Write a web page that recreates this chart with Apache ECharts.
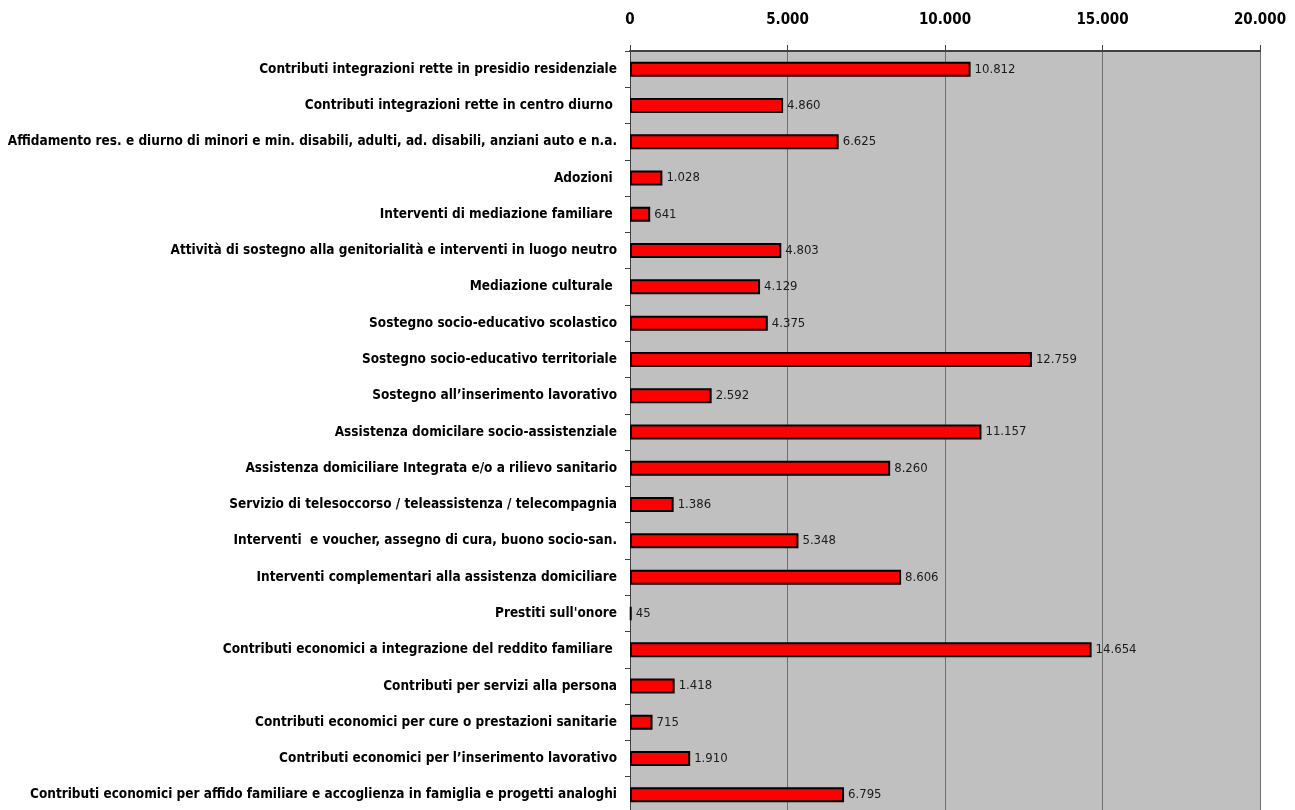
<!DOCTYPE html>
<html lang="it">
<head>
    <meta charset="UTF-8">
    <title>Interventi e servizi</title>
    <script src="https://cdn.jsdelivr.net/npm/echarts@6/dist/echarts.min.js"></script>
    <style>
        html, body { margin: 0; padding: 0; background: #fff; }
        #main { width: 1295px; height: 810px; }
    </style>
</head>
<body>
<div id="main"></div>
<script type="text/javascript">
    // categorie, dall'alto verso il basso
    var categories = [
        'Contributi integrazioni rette in presidio residenziale',
        'Contributi integrazioni rette in centro diurno ',
        'Affidamento res. e diurno di minori e min. disabili, adulti, ad. disabili, anziani auto e n.a.',
        'Adozioni ',
        'Interventi di mediazione familiare ',
        'Attività di sostegno alla genitorialità e interventi in luogo neutro',
        'Mediazione culturale ',
        'Sostegno socio-educativo scolastico',
        'Sostegno socio-educativo territoriale',
        'Sostegno all\u2019inserimento lavorativo',
        'Assistenza domicilare socio-assistenziale',
        'Assistenza domiciliare Integrata e/o a rilievo sanitario',
        'Servizio di telesoccorso / teleassistenza / telecompagnia',
        'Interventi  e voucher, assegno di cura, buono socio-san.',
        'Interventi complementari alla assistenza domiciliare',
        'Prestiti sull\'onore',
        'Contributi economici a integrazione del reddito familiare ',
        'Contributi per servizi alla persona',
        'Contributi economici per cure o prestazioni sanitarie',
        'Contributi economici per l\u2019inserimento lavorativo',
        'Contributi economici per affido familiare e accoglienza in famiglia e progetti analoghi'
    ];
    var values = [10812, 4860, 6625, 1028, 641, 4803, 4129, 4375, 12759, 2592,
        11157, 8260, 1386, 5348, 8606, 45, 14654, 1418, 715, 1910, 6795];
    var xTicks = [0, 5000, 10000, 15000, 20000];

    var fontFam = '"DejaVu Sans Condensed", "Liberation Sans Narrow", "Arial Narrow", sans-serif';

    function fmt(v) {
        return String(v).replace(/\B(?=(\d{3})+(?!\d))/g, '.');
    }

    var myChart = echarts.init(document.getElementById('main'));
    var option = {
        animation: false,
        grid: {
            left: 630,
            right: 35,
            top: 51,
            bottom: -3,
            outerBoundsMode: 'none',
            containLabel: false,
            show: true,
            backgroundColor: '#c0c0c0',
            borderWidth: 0
        },
        xAxis: {
            type: 'value',
            position: 'top',
            min: xTicks[0],
            max: xTicks[xTicks.length - 1],
            interval: 5000,
            axisLine: {show: true, lineStyle: {color: '#404040', width: 2}},
            axisTick: {show: true, inside: false, length: 6, lineStyle: {color: '#404040'}},
            axisLabel: {
                margin: 23,
                color: '#000',
                fontFamily: fontFam,
                fontWeight: 'bold',
                fontSize: 15,
                formatter: fmt
            },
            splitLine: {show: true, lineStyle: {color: '#6e6e6e', width: 1}}
        },
        yAxis: {
            type: 'category',
            inverse: true,
            data: categories,
            axisLine: {show: true, lineStyle: {color: '#404040', width: 1}},
            axisTick: {show: true, length: 5, lineStyle: {color: '#404040'}},
            axisLabel: {
                margin: 13,
                color: '#000',
                fontFamily: fontFam,
                fontWeight: 'bold',
                fontSize: 13.5
            }
        },
        series: [
            {
                type: 'bar',
                data: values,
                barWidth: 15,
                itemStyle: {color: '#ff0000', borderColor: '#000', borderWidth: 2},
                label: {
                    show: true,
                    position: 'right',
                    distance: 4,
                    color: '#1a1a1a',
                    fontFamily: fontFam,
                    fontSize: 13,
                    formatter: function (p) {
                        return fmt(p.value);
                    }
                }
            }
        ]
    };
    myChart.setOption(option);
</script>
</body>
</html>
